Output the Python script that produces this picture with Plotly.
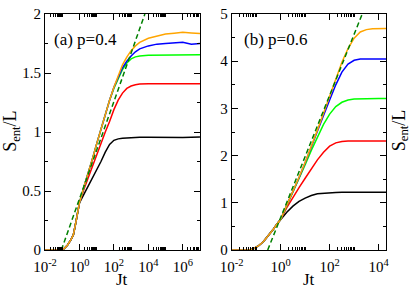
import plotly.graph_objects as go

# ---------------- data ----------------
# panel (a) p=0.4 : log10(Jt) grid and S_ent/L values
a_logt = [-2, -1.1, -0.9, -0.7, -0.5, -0.35, -0.2, -0.1, 0, 0.25, 0.5, 0.75, 1.0, 1.25, 1.5,
          1.75, 2.0, 2.25, 2.5, 2.75, 3.0, 3.25, 3.5, 4.0, 4.5, 5.0, 5.5, 6.0, 6.5, 7.0]
a_early = [0, 0, 0.01, 0.04, 0.085, 0.13, 0.24, 0.33, 0.40]
a_orange = a_early + [0.53, 0.64, 0.77, 0.90, 1.03, 1.16, 1.27, 1.38, 1.48, 1.57, 1.635, 1.69,
                      1.73, 1.76, 1.795, 1.815, 1.83, 1.838, 1.845, 1.84, 1.835]
a_blue = a_early + [0.53, 0.64, 0.77, 0.90, 1.03, 1.16, 1.27, 1.38, 1.47, 1.545, 1.60, 1.645,
                    1.68, 1.705, 1.73, 1.745, 1.75, 1.755, 1.76, 1.745, 1.75]
a_green = a_early + [0.53, 0.64, 0.77, 0.90, 1.03, 1.16, 1.27, 1.37, 1.455, 1.53, 1.585, 1.62,
                     1.637, 1.645, 1.65, 1.651, 1.652, 1.65, 1.652, 1.655, 1.656]
a_red = a_early + [0.51, 0.61, 0.71, 0.81, 0.905, 1.0, 1.09, 1.19, 1.27, 1.33, 1.37, 1.39,
                   1.40, 1.407, 1.41, 1.41, 1.412, 1.41, 1.41, 1.41, 1.41]
a_black = a_early + [0.47, 0.54, 0.605, 0.67, 0.75, 0.83, 0.895, 0.93, 0.942, 0.947, 0.95, 0.953,
                     0.955, 0.955, 0.955, 0.953, 0.957, 0.955, 0.953, 0.955, 0.957]
a_fit_logt = [-1.05, 3.8]
a_fit = [0.0, 2.0]

# panel (b) p=0.6
b_logt = [-2, -1.25, -1.1, -0.9, -0.7, -0.5, -0.3, -0.15, 0, 0.25, 0.5, 0.75, 1.0, 1.25, 1.5,
          1.75, 2.0, 2.25, 2.5, 2.75, 3.0, 3.25, 3.5, 3.75, 4.0, 4.301]
b_early = [0, 0, 0.03, 0.09, 0.18, 0.30, 0.44, 0.55, 0.65]
b_orange = b_early + [0.95, 1.24, 1.54, 1.86, 2.19, 2.54, 2.90, 3.27, 3.64, 3.98, 4.27, 4.49,
                      4.62, 4.67, 4.69, 4.695, 4.695]
b_blue = b_early + [0.95, 1.23, 1.53, 1.85, 2.17, 2.51, 2.85, 3.18, 3.50, 3.77, 3.94, 4.02,
                    4.045, 4.05, 4.05, 4.05, 4.05]
b_green = b_early + [0.94, 1.22, 1.51, 1.81, 2.11, 2.40, 2.66, 2.88, 3.04, 3.13, 3.18, 3.2,
                     3.205, 3.21, 3.21, 3.21, 3.21]
b_red = b_early + [0.90, 1.12, 1.32, 1.52, 1.72, 1.91, 2.07, 2.2, 2.27, 2.30, 2.31, 2.31,
                   2.31, 2.31, 2.31, 2.31, 2.31]
b_black = b_early + [0.8, 0.93, 1.03, 1.1, 1.155, 1.19, 1.205, 1.215, 1.22, 1.222, 1.223, 1.224,
                     1.225, 1.225, 1.225, 1.225, 1.225]
b_fit_logt = [-0.53, 3.33]
b_fit = [0.0, 5.0]

a_xticks = [-2, 0, 2, 4, 6]
b_xticks = [-2, 0, 2, 4]
labels_a = ["(a) p=0.4"]
labels_b = ["(b) p=0.6"]

colors = {"black": "#000000", "red": "#FF0000", "green": "#00FF00",
          "blue": "#0000FF", "orange": "#FFA500"}
FONT = "Liberation Serif, Times New Roman, serif"


def tv(lst):
    return [10 ** v for v in lst]


fig = go.Figure()
for name, ys in [("black", a_black), ("red", a_red), ("green", a_green),
                 ("blue", a_blue), ("orange", a_orange)]:
    fig.add_trace(go.Scatter(x=tv(a_logt), y=ys, mode="lines",
                             line=dict(color=colors[name], width=1.5),
                             xaxis="x", yaxis="y", showlegend=False))
fig.add_trace(go.Scatter(x=tv(a_fit_logt), y=a_fit, mode="lines",
                         line=dict(color="#008000", width=1.5, dash="5px,3px"),
                         xaxis="x", yaxis="y", showlegend=False))
for name, ys in [("black", b_black), ("red", b_red), ("green", b_green),
                 ("blue", b_blue), ("orange", b_orange)]:
    fig.add_trace(go.Scatter(x=tv(b_logt), y=ys, mode="lines",
                             line=dict(color=colors[name], width=1.5),
                             xaxis="x2", yaxis="y2", showlegend=False))
fig.add_trace(go.Scatter(x=tv(b_fit_logt), y=b_fit, mode="lines",
                         line=dict(color="#008000", width=1.5, dash="5px,3px"),
                         xaxis="x2", yaxis="y2", showlegend=False))


def minor_vals(majors):
    out = []
    for m in majors:
        for k in range(2, 11):
            out.append(k * 10 ** m)
    return out


def xax(domain, rng, ticks):
    return dict(domain=domain, type="log", range=rng,
                tickmode="array", tickvals=tv(ticks),
                ticktext=["10<sup>%d</sup>" % t for t in ticks],
                ticks="inside", ticklen=6, tickwidth=1, tickcolor="black",
                showline=True, linecolor="black", linewidth=1, mirror="ticks",
                showgrid=False, zeroline=False, ticklabeloverflow="allow",
                ticklabelstandoff=3,
                minor=dict(tickmode="array", tickvals=minor_vals(ticks), ticks="inside",
                           ticklen=3, tickwidth=1, tickcolor="black", showgrid=False),
                tickfont=dict(family=FONT, size=15, color="black"))


def yax(anchor, rng, dtick, mdtick):
    return dict(anchor=anchor, range=rng, dtick=dtick, tick0=0,
                ticks="inside", ticklen=6, tickwidth=1, tickcolor="black",
                showline=True, linecolor="black", linewidth=1, mirror="ticks",
                showgrid=False, zeroline=False, ticklabeloverflow="allow",
                minor=dict(dtick=mdtick, ticks="inside", ticklen=3, tickwidth=1,
                           tickcolor="black", showgrid=False),
                tickfont=dict(family=FONT, size=15, color="black"))


fig.update_layout(
    width=411, height=287,
    margin=dict(l=45, r=25, t=6, b=37),
    paper_bgcolor="white", plot_bgcolor="white",
    xaxis=dict(xax([0, 0.4545], [-2, 7], a_xticks), anchor="y"),
    yaxis=yax("x", [0, 2.0005], 0.5, 0.25),
    xaxis2=dict(xax([0.5475, 1.0], [-2, 4.301], b_xticks), anchor="y2"),
    yaxis2=yax("x2", [0, 5.001], 1, 0.5),
    font=dict(family=FONT, color="black"),
)

ann = []
ann.append(dict(text=labels_a[0], xref="x domain", yref="y domain", x=0.045, y=0.89,
                xanchor="left", yanchor="middle", showarrow=False,
                font=dict(family=FONT, size=17, color="black")))
ann.append(dict(text=labels_b[0], xref="x2 domain", yref="y2 domain", x=0.065, y=0.89,
                xanchor="left", yanchor="middle", showarrow=False,
                font=dict(family=FONT, size=17, color="black")))
for xr in ["x domain", "x2 domain"]:
    ann.append(dict(text="Jt", xref=xr, yref="paper", x=0.5, y=-0.124,
                    xanchor="center", yanchor="middle", showarrow=False,
                    font=dict(family=FONT, size=17, color="black")))
for xp in [-0.0968, 1.042]:
    ann.append(dict(text="S<sub>ent</sub>/L", xref="paper", yref="paper", x=xp, y=0.505,
                    xanchor="center", yanchor="middle", showarrow=False, textangle=-90,
                    font=dict(family=FONT, size=18, color="black")))
fig.update_layout(annotations=ann)

fig.write_html("out.html", config={"displayModeBar": False},
               post_script="document.body.style.margin='0';")
